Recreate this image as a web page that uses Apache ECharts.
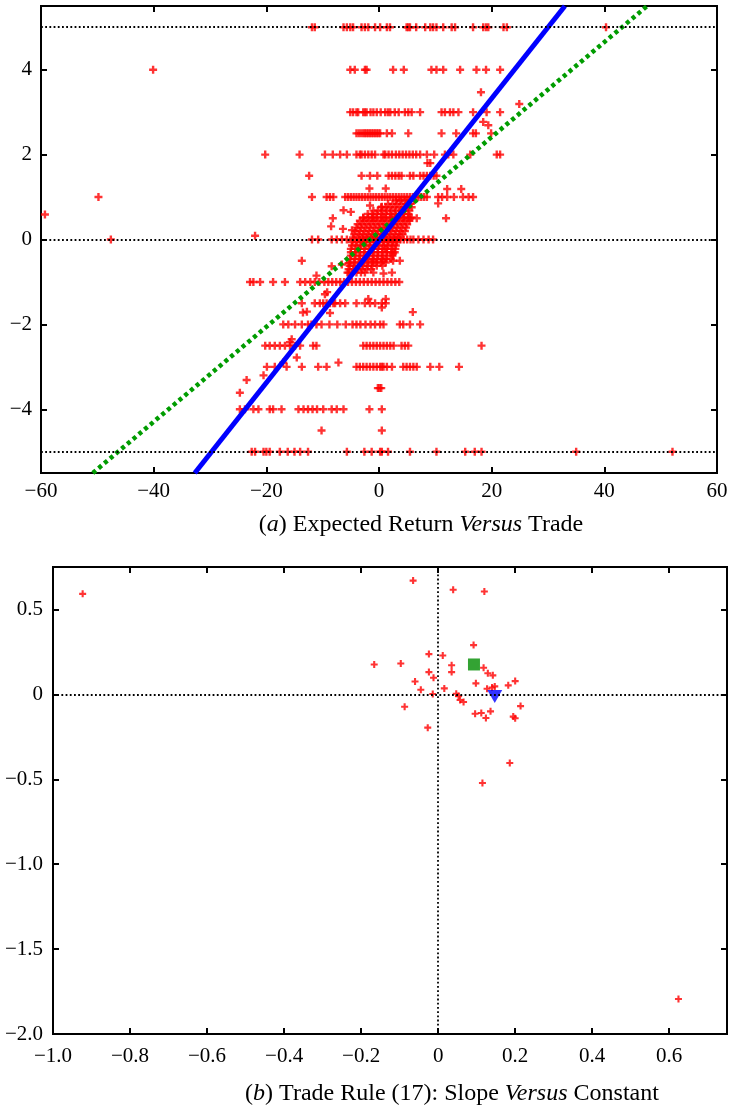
<!DOCTYPE html>
<html>
<head>
<meta charset="utf-8">
<script src="https://cdn.jsdelivr.net/npm/echarts@6/dist/echarts.min.js"></script>
<style>
  html, body { margin: 0; padding: 0; background: #fff; }
  #chart { width: 732px; height: 1105px; }
</style>
</head>
<body>
<div id="chart"></div>
<script>
// ---- panel (a): x positions of trades at each expected-return level ----
var levelY = [5, 4, 3, 2.5, 2, 1.5, 1, 0.5, 0, -0.5, -1, -1.5, -2, -2.5, -3, -3.5, -4, -4.5, -5];
var y5 = [-11.9, -11.4, -6.3, -5.7, -5.1, -4.6, -3.1, -2.5, -1.9, -0.7, 0.2, 1.4, 1.95, 4.9, 5.2, 5.5, 6.6, 8.2, 9.1, 9.6, 10.2, 11.4, 12.9, 13.5, 16.7, 18.5, 19.0, 19.4, 22.1, 22.7, 40.3];
var y4 = [-40.1, -5.1, -4.3, -2.5, -2.2, 2.5, 4.4, 9.3, 10.2, 11.4, 14.4, 17.3, 19.0, 21.5];
var y3 = [-5.1, -4.6, -4.0, -3.7, -2.8, -2.5, -2.2, -1.5, -1.0, -0.4, 0.3, 1.1, 1.6, 2.0, 2.8, 3.5, 4.6, 5.2, 5.8, 7.3, 11.1, 11.7, 12.6, 13.2, 14.1, 16.7, 19.1, 21.5];
var y25 = [-4.0, -3.6, -3.2, -2.8, -2.5, -2.2, -1.9, -1.6, -1.3, -1.0, -0.7, -0.4, -0.1, 0.2, 1.4, 2.3, 5.2, 11.1, 13.7, 16.7, 17.2, 19.9];
var y2 = [-20.2, -14.1, -9.6, -8.2, -6.9, -5.7, -4.0, -3.4, -3.1, -2.5, -1.9, -1.3, -0.7, 0.8, 1.1, 1.7, 2.3, 3.0, 3.6, 4.2, 4.8, 5.4, 6.0, 6.6, 7.3, 8.5, 9.8, 11.7, 12.3, 13.2, 16.2, 20.9, 21.5];
var y15 = [-12.4, -3.1, -1.6, -0.3, 1.7, 2.3, 2.9, 3.5, 4.0, 5.5, 6.1, 7.3, 7.9, 8.5, 9.1, 9.7, 10.2];
var y1 = [-49.8, -11.9, -9.3, -8.7, -8.1, -6.0, -5.5, -5.0, -4.5, -4.0, -3.5, -3.0, -2.5, -2.0, -1.5, -1.0, -0.5, 0, 0.5, 1.0, 1.5, 2.0, 2.5, 3.0, 3.5, 4.0, 4.5, 5.0, 5.5, 6.0, 6.5, 7.0, 7.5, 8.0, 8.5, 10.5, 11.2, 12.1, 13.3, 14.9, 15.9, 16.7];
var y05 = [-8.2, -2.8, -1.0, 0.8, 2.3, 4.3, 5.5, 6.7, 11.9];
var y0 = [-47.6, -11.9, -10.8, -8.4, -7.5, -6.6, -5.7, -4.6, -3.4, -2.8, -2.2, -1.6, -1.0, -0.4, 0.2, 0.8, 1.4, 2.0, 2.6, 3.2, 3.8, 4.4, 5.0, 5.6, 6.1, 7.0, 7.9, 8.8, 9.6];
var yN05 = [-13.7, -2.8, -1.0, 0.8, 2.5, 3.7];
var yN1 = [-22.9, -22.3, -21.1, -18.8, -16.7, -14.0, -13.1, -12.2, -11.4, -10.6, -9.7, -9.0, -8.3, -7.6, -6.9, -6.2, -5.5, -4.8, -4.1, -3.4, -2.7, -2.0, -1.3, -0.6, 0.1, 0.8, 1.5, 2.2, 2.9, 3.6];
var yN15 = [-13.7, -11.4, -10.5, -9.9, -9.3, -8.7, -8.1, -7.8, -6.9, -6.0, -4.0, -2.5, -1.6, -0.7, 0.5, 1.2];
var yN2 = [-17.0, -16.1, -14.9, -13.7, -12.6, -12.0, -11.1, -10.2, -8.8, -7.4, -5.9, -4.7, -4.0, -3.3, -2.4, -1.5, -0.7, 0.2, 0.8, 3.7, 4.3, 5.5, 7.3];
var yN25 = [-20.2, -19.4, -18.5, -17.6, -16.7, -15.8, -14.9, -14.0, -11.7, -11.1, -2.8, -2.2, -1.6, -1.0, -0.4, 0.2, 0.8, 1.4, 2.0, 2.6, 4.0, 4.6, 5.2, 18.2];
var yN3 = [-19.9, -18.5, -16.4, -13.7, -10.8, -9.3, -4.0, -3.4, -2.8, -2.2, -1.6, -1.0, -0.4, 0.2, 0.5, 0.8, 1.4, 2.3, 4.3, 4.9, 5.5, 6.1, 6.7, 9.1, 10.7, 14.2];
var yN35 = [-0.2, 0.1, 0.4];
var yN4 = [-24.7, -23.8, -22.3, -21.4, -19.4, -18.8, -17.3, -14.3, -13.4, -12.6, -11.8, -11.0, -9.9, -8.4, -7.5, -6.3, -1.7, 0.5];
var yN45 = [-10.2, 0.5];
var yN5 = [-22.6, -22.0, -20.5, -20.0, -19.4, -17.6, -16.2, -15.0, -14.0, -12.6, -5.7, -2.6, -1.3, 0.2, 0.5, 1.6, 5.5, 10.2, 15.3, 17.0, 18.2, 35.0, 52.1];
var levelRows = [y5, y4, y3, y25, y2, y15, y1, y05, y0, yN05, yN1, yN15, yN2, yN25, yN3, yN35, yN4, yN45, yN5];

// off-level trades [x, y]
var offLevel = [
    [-59.3, 0.59], [-22.0, 0.09], [18.1, 3.47], [24.9, 3.19], [18.5, 2.77], [19.4, 2.69],
    [8.6, 1.8], [9.1, 1.8], [-1.7, 1.2], [1.2, 1.2], [12.1, 1.19], [14.6, 1.19], [10.5, 0.85],
    [-6.3, 0.69], [-5.0, 0.65], [-8.5, 0.31], [-6.4, 0.25], [-4.8, 0.22], [-1.6, 0.8], [0.5, 0.77],
    [1.1, -0.22], [2.5, -0.33], [-8.4, -0.63], [-6.6, -0.59], [-5.4, -0.56], [-11.1, -0.85],
    [-5.4, -0.78], [-2.5, -0.78], [-1.0, -0.78], [0.8, -0.8], [2.3, -0.78], [-9.6, -1.29],
    [-9.2, -1.24], [-13.5, -1.72], [-12.8, -1.7], [-8.7, -1.73], [6.0, -1.71], [-1.9, -1.4],
    [1.2, -1.4], [0.5, -1.6], [-15.8, -2.42], [-15.5, -2.35], [-17.0, -2.9], [-14.6, -2.78],
    [-7.2, -2.9], [-20.5, -3.2], [-23.5, -3.31], [-24.7, -3.61]
];

// the dense blob around the origin: one y value per row and the x values on it
var clusterY = [0.92, 0.84, 0.76, 0.68, 0.6, 0.52, 0.44, 0.36, 0.28, 0.2, 0.12, 0.05,
    -0.06, -0.14, -0.22, -0.3, -0.38, -0.46, -0.54, -0.62, -0.7, -0.78];
var clusterRows = [
    [3.0, 3.8, 4.6, 5.4, 6.2],
    [1.6, 2.4, 3.2, 4.0, 4.8, 5.6],
    [0.4, 1.2, 2.0, 2.8, 3.6, 4.4, 5.2, 5.8],
    [-1.0, -0.2, 0.6, 1.4, 2.2, 3.0, 3.8, 4.6, 5.4],
    [-2.0, -1.2, -0.4, 0.4, 1.2, 2.0, 2.8, 3.6, 4.4, 5.2],
    [-2.8, -2.0, -1.2, -0.4, 0.4, 1.2, 2.0, 2.8, 3.6, 4.4, 5.2, 5.8],
    [-3.4, -2.6, -1.8, -1.0, -0.2, 0.6, 1.4, 2.2, 3.0, 3.8, 4.6, 5.4],
    [-3.8, -3.0, -2.2, -1.4, -0.6, 0.2, 1.0, 1.8, 2.6, 3.4, 4.2, 5.0],
    [-4.0, -3.2, -2.4, -1.6, -0.8, 0, 0.8, 1.6, 2.4, 3.2, 4.0, 4.8],
    [-4.2, -3.4, -2.6, -1.8, -1.0, -0.2, 0.6, 1.4, 2.2, 3.0, 3.8, 4.6],
    [-4.4, -3.6, -2.8, -2.0, -1.2, -0.4, 0.4, 1.2, 2.0, 2.8, 3.6, 4.2],
    [-4.6, -3.8, -3.0, -2.2, -1.4, -0.6, 0.2, 1.0, 1.8, 2.6, 3.4],
    [-4.8, -4.0, -3.2, -2.4, -1.6, -0.8, 0, 0.8, 1.6, 2.4, 3.2],
    [-4.8, -4.0, -3.2, -2.4, -1.6, -0.8, 0, 0.8, 1.6, 2.4, 3.0],
    [-5.0, -4.2, -3.4, -2.6, -1.8, -1.0, -0.2, 0.6, 1.4, 2.2, 2.9],
    [-5.0, -4.2, -3.4, -2.6, -1.8, -1.0, -0.2, 0.6, 1.4, 2.2, 2.8],
    [-5.0, -4.2, -3.4, -2.6, -1.8, -1.0, -0.2, 0.6, 1.4, 2.4],
    [-5.1, -4.3, -3.5, -2.7, -1.9, -1.1, -0.3, 0.5, 1.3, 2.1],
    [-5.2, -4.4, -3.6, -2.8, -2.0, -1.2, -0.4, 0.4, 1.2],
    [-5.2, -4.4, -3.6, -2.8, -2.0, -1.2, -0.4, 0.6],
    [-5.4, -4.6, -3.8, -3.0, -2.2, -1.4],
    [-5.6, -4.8, -4.0, -3.2]
];

// fitted rules drawn across panel (a), endpoints read at the plot edges
var blueLine = [[-32.7, -5.5], [33.0, 5.5]];
var greenLine = [[-50.8, -5.5], [47.6, 5.5]];
var refLinesA = [5, 0, -5];

// ---- panel (b): slope versus constant ----
var rulePoints = [
    [-0.923, 0.592], [0.624, -1.794], [-0.065, 0.67], [0.039, 0.616], [0.12, 0.606], [0.092, 0.29],
    [-0.024, 0.237], [0.012, 0.229], [-0.166, 0.176], [-0.097, 0.182], [0.035, 0.171], [-0.024, 0.131],
    [0.035, 0.131], [0.118, 0.157], [0.129, 0.124], [0.142, 0.112], [-0.012, 0.098], [-0.06, 0.076],
    [0.098, 0.065], [0.2, 0.078], [0.182, 0.053], [-0.045, 0.027], [0.016, 0.035], [0.127, 0.033],
    [0.147, 0.047], [0.14, 0.04], [-0.014, 0.002], [0.047, 0.004], [0.053, -0.01], [0.057, -0.033],
    [0.066, -0.045], [-0.087, -0.073], [0.214, -0.069], [0.096, -0.114], [0.112, -0.11], [0.136, -0.1],
    [0.124, -0.139], [0.195, -0.131], [0.2, -0.141], [-0.027, -0.196], [0.186, -0.404], [0.115, -0.522]
];
var greenRule = [[0.093, 0.176]];
var blueRule = [[0.147, -0.012]];

// tick labels
var ticksAX = [-60, -40, -20, 0, 20, 40, 60];
var ticksAY = [-4, -2, 0, 2, 4];
var ticksBX = [-1.0, -0.8, -0.6, -0.4, -0.2, 0, 0.2, 0.4, 0.6];
var ticksBY = [-2.0, -1.5, -1.0, -0.5, 0, 0.5];

var font = "'Liberation Serif', 'DejaVu Serif', serif";
// bold plus marker
var plus = 'path://M2.8,0H5.2V2.8H8V5.2H5.2V8H2.8V5.2H0V2.8H2.8Z';

function fmtInt(v) {
    return String(v).replace('-', '\u2212');
}
function fmtDec(v) {
    if (Math.abs(v) < 1e-9) return '0';
    return v.toFixed(1).replace('-', '\u2212');
}

var tradePoints = [];
levelRows.forEach(function (row, i) {
    row.forEach(function (x) {
        tradePoints.push([x, levelY[i]]);
    });
});
clusterRows.forEach(function (row, i) {
    row.forEach(function (x) {
        tradePoints.push([x, clusterY[i]]);
    });
});
tradePoints = tradePoints.concat(offLevel);

function axisBase(grid, min, max, ticks, fmt, show, pos, margin) {
    return {
        type: 'value',
        gridIndex: grid,
        position: pos,
        min: min,
        max: max,
        splitLine: { show: false },
        axisLine: { show: true, onZero: false, lineStyle: { color: '#000', width: 2 } },
        axisTick: { show: true, inside: true, length: 6, customValues: ticks, lineStyle: { color: '#000', width: 2 } },
        axisLabel: {
            show: show, customValues: ticks, formatter: fmt,
            fontFamily: font, fontSize: 21, color: '#000', margin: margin || 9
        }
    };
}

var chart = echarts.init(document.getElementById('chart'));

var dotted = { color: '#000', width: 1.8, type: [1.8, 2.4] };
var captionStyle = {
    fontFamily: font, fontSize: 24, fontWeight: 'normal', color: '#000',
    rich: { i: { fontFamily: font, fontSize: 24, fontStyle: 'italic', color: '#000' } }
};

var option = {
    backgroundColor: '#fff',
    animation: false,
    title: [
        {
            text: '({i|a}) Expected Return {i|Versus} Trade',
            left: 416, top: 508, textAlign: 'center',
            textStyle: captionStyle
        },
        {
            text: '({i|b}) Trade Rule (17): Slope {i|Versus} Constant',
            left: 447, top: 1077, textAlign: 'center',
            textStyle: captionStyle
        }
    ],
    grid: [
        { left: 41, right: 15, top: 6, height: 467, show: true, borderColor: '#000', borderWidth: 2 },
        { left: 53, right: 5, top: 567, height: 467, show: true, borderColor: '#000', borderWidth: 2 }
    ],
    xAxis: [
        axisBase(0, -60, 60, ticksAX, fmtInt, true, 'bottom', 8),
        axisBase(0, -60, 60, ticksAX, fmtInt, false, 'top'),
        axisBase(1, -1.0, 0.75, ticksBX, fmtDec, true, 'bottom', 12),
        axisBase(1, -1.0, 0.75, ticksBX, fmtDec, false, 'top')
    ],
    yAxis: [
        axisBase(0, -5.5, 5.5, ticksAY, fmtInt, true, 'left'),
        axisBase(0, -5.5, 5.5, ticksAY, fmtInt, false, 'right'),
        axisBase(1, -2.0, 0.75, ticksBY, fmtDec, true, 'left', 10),
        axisBase(1, -2.0, 0.75, ticksBY, fmtDec, false, 'right')
    ],
    series: [
        {
            // reference lines, panel (a)
            type: 'scatter', xAxisIndex: 0, yAxisIndex: 0, data: [], z: 1,
            markLine: {
                silent: true, symbol: ['none', 'none'], label: { show: false },
                lineStyle: dotted,
                data: refLinesA.map(function (v) { return { yAxis: v }; })
            }
        },
        {
            type: 'scatter', xAxisIndex: 0, yAxisIndex: 0, z: 2,
            symbol: plus, symbolSize: 8,
            itemStyle: { color: '#ff0000' },
            data: tradePoints
        },
        {
            type: 'line', xAxisIndex: 0, yAxisIndex: 0, z: 3,
            symbol: 'none', data: greenLine,
            lineStyle: { color: '#009c00', width: 4.5, type: [4, 3.5] }
        },
        {
            type: 'line', xAxisIndex: 0, yAxisIndex: 0, z: 4,
            symbol: 'none', data: blueLine,
            lineStyle: { color: '#0000ff', width: 5 }
        },
        {
            // reference lines, panel (b)
            type: 'scatter', xAxisIndex: 2, yAxisIndex: 2, data: [], z: 1,
            markLine: {
                silent: true, symbol: ['none', 'none'], label: { show: false },
                lineStyle: dotted,
                data: [{ yAxis: 0 }, { xAxis: 0 }]
            }
        },
        {
            type: 'scatter', xAxisIndex: 2, yAxisIndex: 2, z: 2,
            symbol: plus, symbolSize: 7,
            itemStyle: { color: '#ff0000' },
            data: rulePoints
        },
        {
            type: 'scatter', xAxisIndex: 2, yAxisIndex: 2, z: 3,
            symbol: 'rect', symbolSize: 12,
            itemStyle: { color: '#008c00' },
            data: greenRule
        },
        {
            type: 'scatter', xAxisIndex: 2, yAxisIndex: 2, z: 3,
            symbol: 'triangle', symbolSize: [15, 13], symbolRotate: 180,
            itemStyle: { color: '#0000ff' },
            data: blueRule
        }
    ]
};

chart.setOption(option);
</script>
</body>
</html>
